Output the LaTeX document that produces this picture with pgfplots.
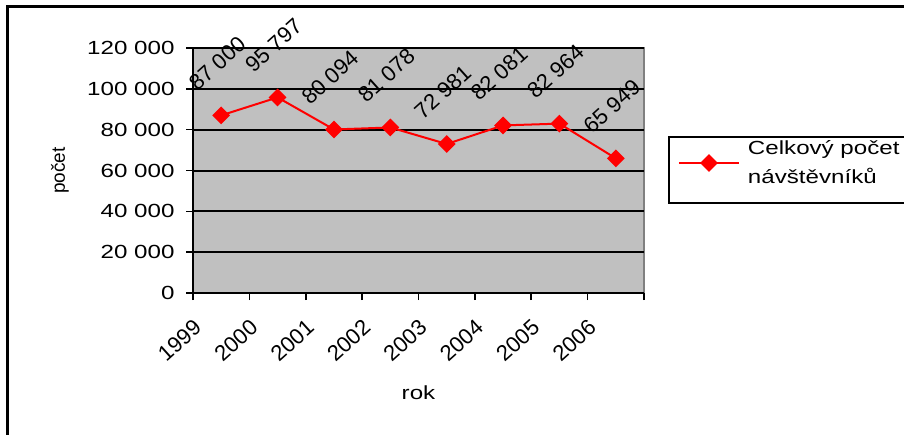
\documentclass[border=0pt]{standalone}
\usepackage{pgfplots}
\pgfplotsset{compat=1.18}
\usepackage{fontspec}
\setmainfont{Liberation Sans}[FakeStretch=1.27]
\newfontfamily\rotfont{Liberation Sans}
\newcommand\hfont{\fontsize{19}{28.5}\selectfont}
\newcommand\rfont{\rotfont\fontsize{22}{26}\selectfont}
\newcommand\vfont{\rotfont\fontsize{19}{23}\selectfont}
\definecolor{plotbg}{RGB}{192,192,192}
\begin{document}
\begin{tikzpicture}[x=1pt,y=1pt]
\begin{axis}[
  at={(193pt,141pt)}, anchor=south west,
  scale only axis, width=451pt, height=245pt,
  xmin=0, xmax=8, ymin=0, ymax=120000,
  axis background/.style={fill=plotbg, draw=gray, line width=1.5pt},
  axis x line*=bottom, axis y line*=left,
  axis line style={-, black, line width=2pt},
  tick align=outside, major tick length=7pt,
  tick style={black, line width=1.5pt},
  xtick={0,1,...,8},
  xticklabels={1999,2000,2001,2002,2003,2004,2005,2006,},
  ytick={0,20000,40000,60000,80000,100000,120000},
  yticklabels={0,20 000,40 000,60 000,80 000,100 000,120 000},
  scaled y ticks=false,
  ymajorgrids, grid style={black, line width=2pt},
  yticklabel style={font=\hfont, xshift=-8pt},
  xticklabel style={font=\rfont, rotate=42, anchor=east, xshift=-9pt, yshift=-21pt},
  xlabel={rok}, ylabel={počet},
  xlabel style={at={(axis description cs:0.5,-0.408)}, anchor=center, font=\hfont},
  ylabel style={at={(axis description cs:-0.295,0.5)}, anchor=center, font=\vfont},
  legend style={at={(1.0532,0.6408)}, anchor=north west, draw=black, line width=2pt,
    font=\hfont, cells={align=left, anchor=center}, inner xsep=9pt, inner ysep=4pt,
    nodes={inner sep=0pt}, column sep=8pt},
  legend image code/.code={\draw[mark repeat=2, mark phase=2, #1] plot coordinates {(0pt,0pt) (30pt,0pt) (60pt,0pt)}; \path (30pt,-35pt);},
]
\addplot[red, line width=2pt, mark=square*, mark size=5.3pt, mark options={rotate=45, solid},
  point meta=explicit symbolic, nodes near coords,
  every node near coord/.append style={font=\rfont, text=black, anchor=center, xshift=-4pt, yshift=52pt, rotate=42}]
  coordinates {
  (0.5,87000) [87~000]
  (1.5,95797) [95~797]
  (2.5,80094) [80~094]
  (3.5,81078) [81~078]
  (4.5,72981) [72~981]
  (5.5,82081) [82~081]
  (6.5,82964) [82~964]
  (7.5,65949) [65~949]
  };
\addlegendentry{Celkový počet\hspace*{25pt}\\návštěvníků}
\end{axis}
\draw[line width=3pt] (7,-20) -- (7,427) -- (930,427);
\pgfresetboundingbox
\useasboundingbox (0,0) rectangle (904,434);
\end{tikzpicture}
\end{document}
